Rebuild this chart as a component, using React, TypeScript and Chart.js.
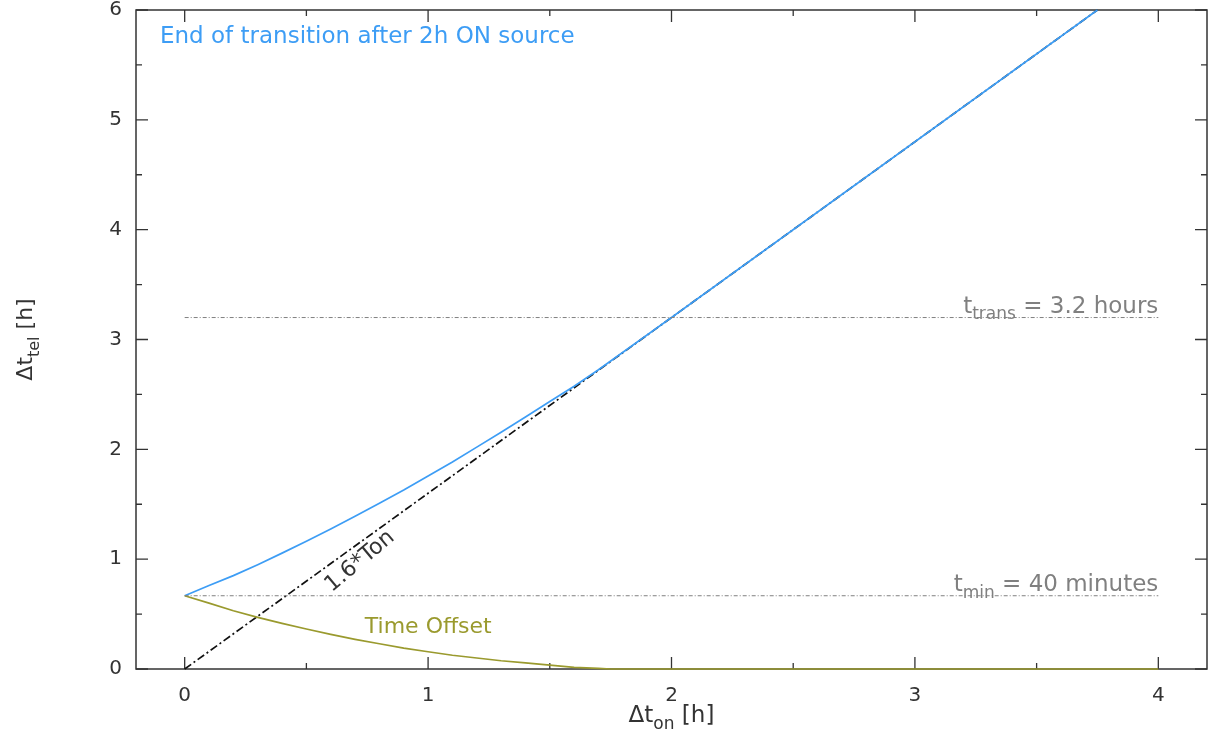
import React, { useEffect, useRef } from "react";
import { Chart, registerables } from "chart.js";

Chart.register(...registerables);

// ---- data ----
const X_TICKS = [0, 1, 2, 3, 4];
const Y_TICKS = [0, 1, 2, 3, 4, 5, 6];
const X_MINOR = [0.5, 1.5, 2.5, 3.5];
const Y_MINOR = [0.5, 1.5, 2.5, 3.5, 4.5, 5.5];

const OFFSET_X = [0, 0.1, 0.2, 0.3, 0.4, 0.5, 0.6, 0.7, 0.8, 0.9, 1.0, 1.1, 1.2, 1.3, 1.4, 1.5, 1.6, 1.7, 1.75, 4.0];
const OFFSET_Y = [0.667, 0.6, 0.53, 0.47, 0.415, 0.364, 0.315, 0.27, 0.23, 0.19, 0.157, 0.125, 0.1, 0.075, 0.055, 0.035, 0.015, 0.005, 0, 0];

const TEL_X = [0, 0.1, 0.2, 0.3, 0.4, 0.5, 0.6, 0.7, 0.8, 0.9, 1.0, 1.1, 1.2, 1.3, 1.4, 1.5, 1.6, 1.7, 2.0, 3.75];
const TEL_Y = [0.667, 0.76, 0.85, 0.95, 1.055, 1.164, 1.275, 1.39, 1.51, 1.63, 1.757, 1.885, 2.02, 2.155, 2.295, 2.435, 2.575, 2.725, 3.2, 6.0];

const LIN_X = [0, 3.75];
const LIN_Y = [0, 6];

const T_TRANS = 3.2;
const T_MIN = 0.667;
const REF_X = [0, 4];

const FONT = '"DejaVu Sans", sans-serif';
const BLUE = "#3d9df5";
const OLIVE = "#9a9a2e";
const GRAY = "#808080";
const DARK = "#333333";
const TXT = 22;
const BIG = 23;
const TICK = 20;

const pts = (xs: number[], ys: number[]) => xs.map((x, i) => ({ x, y: ys[i] }));

type Part = { t: string; sub?: boolean };

function drawRich(ctx: CanvasRenderingContext2D, parts: Part[], x: number, y: number, align: "left" | "center" | "right", size: number, color: string) {
  const main = `${size}px ${FONT}`;
  const sub = `${Math.round(size * 0.72)}px ${FONT}`;
  ctx.textBaseline = "alphabetic";
  ctx.textAlign = "left";
  ctx.fillStyle = color;
  const widths = parts.map((p) => {
    ctx.font = p.sub ? sub : main;
    return ctx.measureText(p.t).width;
  });
  const total = widths.reduce((a, b) => a + b, 0);
  let cx = align === "left" ? x : align === "center" ? x - total / 2 : x - total;
  parts.forEach((p, i) => {
    ctx.font = p.sub ? sub : main;
    ctx.fillText(p.t, cx, p.sub ? y + size * 0.3 : y);
    cx += widths[i];
  });
}

const framePlugin = {
  id: "frame",
  beforeDatasetsDraw(chart: any) {
    const { ctx, chartArea: a, scales } = chart;
    const xs = scales.x;
    const ys = scales.y;
    ctx.save();
    ctx.strokeStyle = DARK;
    ctx.lineWidth = 1.5;
    ctx.strokeRect(a.left, a.top, a.right - a.left, a.bottom - a.top);
    ctx.lineWidth = 1.3;
    ctx.beginPath();
    const xt = (v: number, len: number) => {
      const p = xs.getPixelForValue(v);
      ctx.moveTo(p, a.bottom);
      ctx.lineTo(p, a.bottom - len);
      ctx.moveTo(p, a.top);
      ctx.lineTo(p, a.top + len);
    };
    const yt = (v: number, len: number) => {
      const p = ys.getPixelForValue(v);
      ctx.moveTo(a.left, p);
      ctx.lineTo(a.left + len, p);
      ctx.moveTo(a.right, p);
      ctx.lineTo(a.right - len, p);
    };
    X_TICKS.forEach((v) => xt(v, 12));
    X_MINOR.forEach((v) => xt(v, 6));
    Y_TICKS.forEach((v) => yt(v, 12));
    Y_MINOR.forEach((v) => yt(v, 6));
    ctx.stroke();
    ctx.restore();
  },
  afterDatasetsDraw(chart: any) {
    const { ctx, chartArea: a, scales } = chart;
    const xs = scales.x;
    const ys = scales.y;
    ctx.save();
    // axis titles
    drawRich(ctx, [{ t: "Δt" }, { t: "on", sub: true }, { t: " [h]" }], (a.left + a.right) / 2, a.bottom + 53, "center", BIG, DARK);
    ctx.save();
    ctx.translate(32, (a.top + a.bottom) / 2);
    ctx.rotate(-Math.PI / 2);
    drawRich(ctx, [{ t: "Δt" }, { t: "tel", sub: true }, { t: " [h]" }], 0, 0, "center", TXT, DARK);
    ctx.restore();

    // reference line labels
    drawRich(ctx, [{ t: "t" }, { t: "trans", sub: true }, { t: " = 3.2 hours" }], xs.getPixelForValue(4), ys.getPixelForValue(T_TRANS) - 5, "right", BIG, GRAY);
    drawRich(ctx, [{ t: "t" }, { t: "min", sub: true }, { t: " = 40 minutes" }], xs.getPixelForValue(4), ys.getPixelForValue(T_MIN) - 5, "right", BIG, GRAY);

    // annotations
    drawRich(ctx, [{ t: "End of transition after 2h ON source" }], a.left + 24, a.top + 33, "left", BIG, BLUE);
    drawRich(ctx, [{ t: "Time Offset" }], xs.getPixelForValue(0.74), ys.getPixelForValue(0.33), "left", TXT, OLIVE);

    ctx.save();
    ctx.translate(xs.getPixelForValue(0.72), ys.getPixelForValue(0.98));
    ctx.rotate((-40 * Math.PI) / 180);
    ctx.font = `${TXT}px ${FONT}`;
    ctx.fillStyle = DARK;
    ctx.textAlign = "center";
    ctx.textBaseline = "middle";
    ctx.fillText("1.6*Ton", 0, 0);
    ctx.restore();

    ctx.restore();
  },
};

export default function App() {
  const ref = useRef<HTMLCanvasElement>(null);
  useEffect(() => {
    document.body.style.margin = "0";
    const chart = new Chart(ref.current!, {
      type: "line",
      data: {
        datasets: [
          {
            data: pts(REF_X, [T_TRANS, T_TRANS]),
            borderColor: GRAY,
            borderWidth: 1,
            borderDash: [4, 2, 1, 2],
            pointRadius: 0,
          },
          {
            data: pts(REF_X, [T_MIN, T_MIN]),
            borderColor: GRAY,
            borderWidth: 1,
            borderDash: [4, 2, 1, 2],
            pointRadius: 0,
          },
          {
            data: pts(OFFSET_X, OFFSET_Y),
            borderColor: OLIVE,
            borderWidth: 1.7,
            pointRadius: 0,
          },
          {
            data: pts(TEL_X, TEL_Y),
            borderColor: BLUE,
            borderWidth: 1.7,
            pointRadius: 0,
          },
          {
            data: pts(LIN_X, LIN_Y),
            borderColor: "#111111",
            borderWidth: 1.7,
            borderDash: [8, 3, 2, 3],
            pointRadius: 0,
          },
        ] as any,
      },
      options: {
        animation: false,
        responsive: false,
        clip: false as any,
        layout: { padding: { top: 10, right: 3, left: 0, bottom: 0 } },
        plugins: { legend: { display: false }, tooltip: { enabled: false } },
        scales: {
          x: {
            type: "linear",
            min: -0.2,
            max: 4.2,
            grid: { display: false, drawTicks: false },
            border: { display: false },
            ticks: { font: { family: FONT, size: TICK }, color: DARK, padding: 15 },
            afterBuildTicks: (s: any) => {
              s.ticks = X_TICKS.map((v) => ({ value: v }));
            },
            afterFit: (s: any) => {
              s.height = 69;
              s.paddingLeft = 0;
              s.paddingRight = 0;
            },
          },
          y: {
            type: "linear",
            min: 0,
            max: 6,
            grid: { display: false, drawTicks: false },
            border: { display: false },
            ticks: { font: { family: FONT, size: TICK }, color: DARK, padding: 14 },
            afterBuildTicks: (s: any) => {
              s.ticks = Y_TICKS.map((v) => ({ value: v }));
            },
            afterFit: (s: any) => {
              s.width = 136;
              s.paddingTop = 0;
              s.paddingBottom = 0;
            },
          },
        },
      },
      plugins: [framePlugin],
    });
    return () => chart.destroy();
  }, []);
  return (
    <div style={{ position: "absolute", left: 0, top: 0, width: 1210, height: 738, background: "#fff" }}>
      <canvas ref={ref} width={1210} height={738} style={{ width: 1210, height: 738 }} />
    </div>
  );
}
